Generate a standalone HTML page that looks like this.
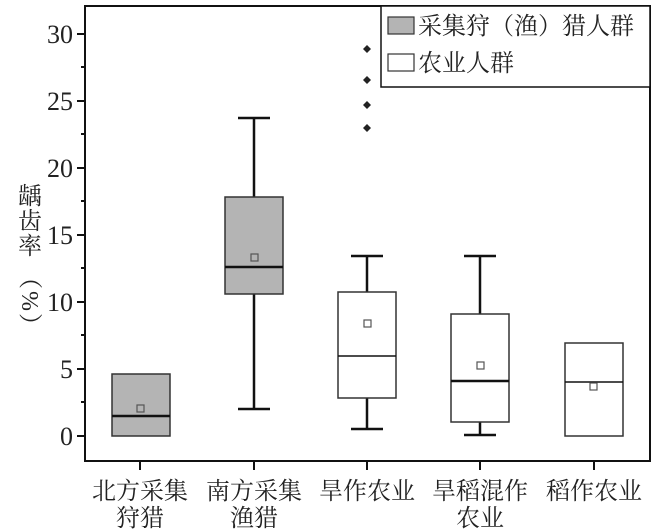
<!DOCTYPE html><html><head><meta charset="utf-8"><style>body{margin:0;background:#fff}svg{display:block}text{font-family:"Liberation Serif","Noto Serif CJK SC",serif;fill:#222}</style></head><body>
<svg width="660" height="532" viewBox="0 0 660 532">
<rect x="85" y="6" width="565" height="455" fill="none" stroke="#111" stroke-width="2"/>
<g stroke="#111" stroke-width="2">
<line x1="77" y1="34" x2="85" y2="34"/><line x1="77" y1="101" x2="85" y2="101"/><line x1="77" y1="168" x2="85" y2="168"/><line x1="77" y1="235" x2="85" y2="235"/><line x1="77" y1="302" x2="85" y2="302"/><line x1="77" y1="369" x2="85" y2="369"/><line x1="77" y1="436" x2="85" y2="436"/>
<line x1="81" y1="67" x2="85" y2="67"/><line x1="81" y1="134" x2="85" y2="134"/><line x1="81" y1="201" x2="85" y2="201"/><line x1="81" y1="268" x2="85" y2="268"/><line x1="81" y1="335" x2="85" y2="335"/><line x1="81" y1="402" x2="85" y2="402"/>
<line x1="140" y1="461" x2="140" y2="470"/><line x1="254" y1="461" x2="254" y2="470"/><line x1="367" y1="461" x2="367" y2="470"/><line x1="480" y1="461" x2="480" y2="470"/><line x1="594" y1="461" x2="594" y2="470"/>
</g>
<g font-size="26" text-anchor="end"><text x="73" y="43">30</text><text x="73" y="110">25</text><text x="73" y="177">20</text><text x="73" y="244">15</text><text x="73" y="311">10</text><text x="73" y="378">5</text><text x="73" y="445">0</text></g>
<g font-size="24" text-anchor="middle"><text x="30" y="204">龋</text><text x="30" y="229">齿</text><text x="30" y="254">率</text></g>
<text font-size="24" text-anchor="middle" transform="translate(22 302) rotate(90)" letter-spacing="2">（%）</text>
<g stroke="#111" stroke-width="2.5">
<line x1="254" y1="118" x2="254" y2="197"/><line x1="238" y1="118" x2="270" y2="118"/><line x1="254" y1="294" x2="254" y2="409"/><line x1="238" y1="409" x2="270" y2="409"/>
<line x1="367" y1="256" x2="367" y2="292"/><line x1="351" y1="256" x2="383" y2="256"/><line x1="367" y1="398" x2="367" y2="429"/><line x1="351" y1="429" x2="383" y2="429"/>
<line x1="480" y1="256" x2="480" y2="314"/><line x1="464" y1="256" x2="496" y2="256"/><line x1="480" y1="422" x2="480" y2="435"/><line x1="464" y1="435" x2="496" y2="435"/>
</g>
<g stroke="#333" stroke-width="1.5">
<rect x="112" y="374" width="58" height="62" fill="#b4b4b4"/>
<rect x="225" y="197" width="58" height="97" fill="#b4b4b4"/>
<rect x="338" y="292" width="58" height="106" fill="#fff"/>
<rect x="451" y="314" width="58" height="108" fill="#fff"/>
<rect x="565" y="343" width="58" height="93" fill="#fff"/>
</g>
<g stroke="#111" stroke-width="2.5"><line x1="112" y1="416" x2="170" y2="416"/><line x1="225" y1="267" x2="283" y2="267"/><line x1="451" y1="381" x2="509" y2="381"/></g>
<g stroke="#111" stroke-width="1.5"><line x1="338" y1="356" x2="396" y2="356"/><line x1="565" y1="382" x2="623" y2="382"/></g>
<g fill="none" stroke="#555" stroke-width="1.2"><rect x="137" y="405" width="7" height="7"/><rect x="251" y="254" width="7" height="7"/><rect x="364" y="320" width="7" height="7"/><rect x="477" y="362" width="7" height="7"/><rect x="590" y="383" width="7" height="7"/></g>
<g fill="#222"><path d="M367 45l4 4-4 4-4-4z"/><path d="M367 76l4 4-4 4-4-4z"/><path d="M367 101l4 4-4 4-4-4z"/><path d="M367 124l4 4-4 4-4-4z"/></g>
<rect x="381" y="6" width="269" height="81" fill="#fff" stroke="#111" stroke-width="1.5"/>
<rect x="388" y="17" width="26" height="17" fill="#b4b4b4" stroke="#333" stroke-width="1.2"/>
<rect x="388" y="54" width="26" height="17" fill="#fff" stroke="#333" stroke-width="1.2"/>
<g font-size="24"><text x="418" y="34">采集狩（渔）猎人群</text><text x="418" y="71">农业人群</text></g>
<g font-size="24" text-anchor="middle"><text x="140" y="499">北方采集</text><text x="140" y="526">狩猎</text><text x="254" y="499">南方采集</text><text x="254" y="526">渔猎</text><text x="367" y="499">旱作农业</text><text x="480" y="499">旱稻混作</text><text x="480" y="526">农业</text><text x="594" y="499">稻作农业</text></g>
</svg></body></html>
